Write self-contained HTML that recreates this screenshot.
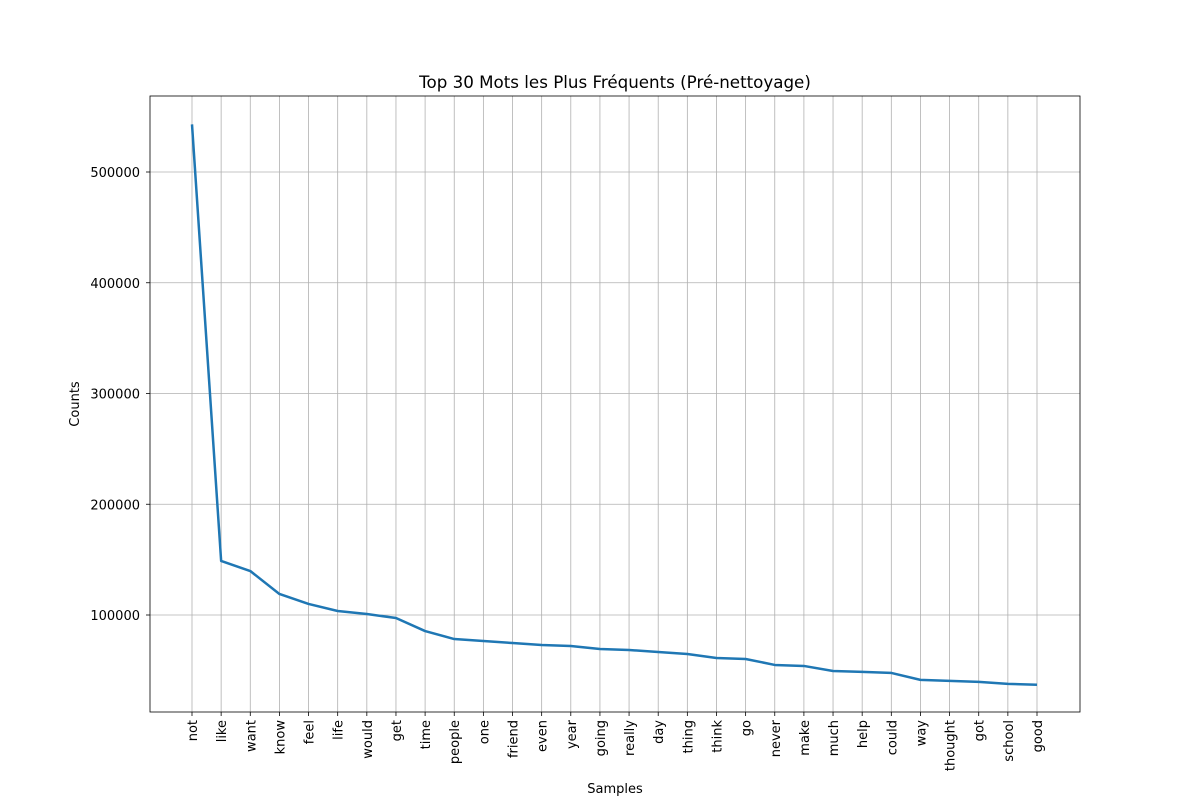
<!DOCTYPE html>
<html><head><meta charset="utf-8"><style>
body{margin:0;background:#fff;font-family:"Liberation Sans","DejaVu Sans",sans-serif;}
svg text{font-family:"DejaVu Sans","Liberation Sans",sans-serif;}
</style></head><body>
<svg id="chart" width="1200" height="800">
<rect width="1200" height="800" fill="#fff"/>
<text x="615" y="88" text-anchor="middle" font-size="16.7">Top 30 Mots les Plus Fréquents (Pré-nettoyage)</text>
<g id="grid"></g>
<g id="axes"></g>
<text x="615" y="793" text-anchor="middle" font-size="13">Samples</text>
<text transform="translate(79,404) rotate(-90)" text-anchor="middle" font-size="13">Counts</text>
</svg>
<script>
const categories=["not","like","want","know","feel","life","would","get","time","people","one","friend","even","year","going","really","day","thing","think","go","never","make","much","help","could","way","thought","got","school","good"];
const counts=[543000,148800,139700,119000,110000,103600,100900,97300,85500,78300,76500,74700,72900,72000,69300,68400,66600,64800,61200,60300,54900,54000,49400,48600,47700,41400,40500,39600,37800,37000];
const yTicks=[100000,200000,300000,400000,500000];
const NS="http://www.w3.org/2000/svg";
const L=150,R=1080,T=96,B=712;
const x=i=>192+i*(1037-192)/(categories.length-1);
const y=v=>615-(v-100000)*(443/400000);
const grid=document.getElementById('grid'),axes=document.getElementById('axes');
function mk(tag,attrs,parent){const e=document.createElementNS(NS,tag);for(const k in attrs)e.setAttribute(k,attrs[k]);parent.appendChild(e);return e;}
categories.forEach((c,i)=>{
  const g=mk('line',{x1:x(i),x2:x(i),y1:T,y2:B,stroke:'#b0b0b0','stroke-width':0.8},grid);
  
  
  mk('line',{x1:x(i),x2:x(i),y1:B,y2:B+4,stroke:'#000','stroke-width':0.8},axes);
  const t=mk('text',{x:0,y:0,'font-size':13,'text-anchor':'end',transform:`translate(${x(i)+5},${B+8}) rotate(-90)`},axes);
  t.textContent=c;
  
  
});
yTicks.forEach(v=>{
  const g=mk('line',{x1:L,x2:R,y1:y(v),y2:y(v),stroke:'#b0b0b0','stroke-width':0.8},grid);
  
  
  mk('line',{x1:L-4,x2:L,y1:y(v),y2:y(v),stroke:'#000','stroke-width':0.8},axes);
  const t=mk('text',{x:L-10,y:y(v)+5,'font-size':13,'text-anchor':'end'},axes);
  t.textContent=v;
  
  
});
const pts=counts.map((v,i)=>x(i)+','+y(v)).join(' ');
const line=mk('polyline',{points:pts,fill:'none',stroke:'#1f77b4','stroke-width':2.5,'stroke-linejoin':'round'},axes);


const frame=mk('rect',{x:L,y:T,width:R-L,height:B-T,fill:'none',stroke:'#000','stroke-width':0.8},axes);


</script>
</body></html>
